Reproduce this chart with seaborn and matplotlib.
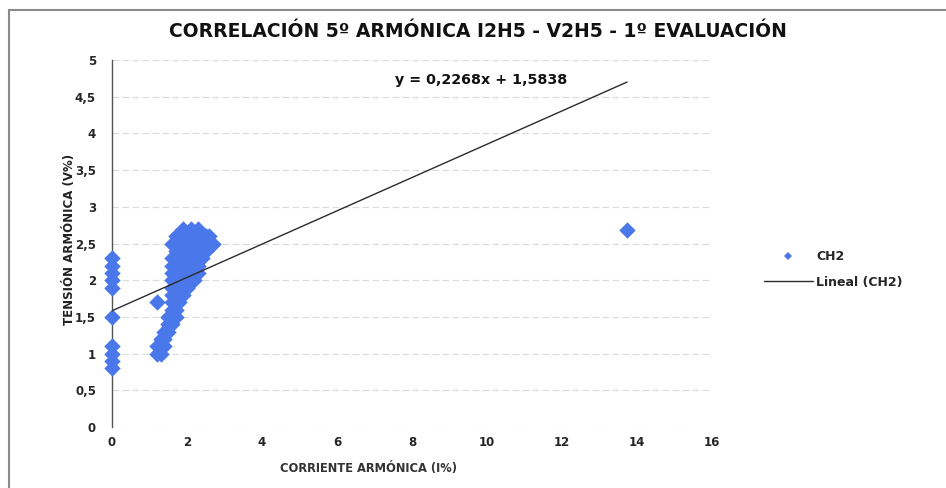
import matplotlib
matplotlib.use("Agg")
import matplotlib.pyplot as plt
from matplotlib.lines import Line2D
from matplotlib.ticker import FuncFormatter
import numpy as np
import pandas as pd
import seaborn as sns

# 5th harmonic: current distortion (I%) vs voltage distortion (V%), channel CH2
corriente = [
    0.0, 0.0, 0.0, 0.0, 0.0, 0.0, 0.0, 0.0, 0.0, 0.0,
    1.2, 1.3,
    1.2, 1.3, 1.4,
    1.3, 1.4,
    1.4, 1.5,
    1.5, 1.6,
    1.5, 1.6, 1.7,
    1.6, 1.7,
    1.2, 1.6, 1.7, 1.8,
    1.6, 1.7, 1.8, 1.9,
    1.6, 1.7, 1.8, 1.9, 2.0,
    1.6, 1.7, 1.8, 1.9, 2.0, 2.1, 2.2,
    1.6, 1.8, 2.0, 2.1, 2.2, 2.3,
    1.6, 1.8, 2.0, 2.2, 2.3,
    1.6, 1.8, 2.0, 2.2, 2.4,
    1.7, 1.9, 2.1, 2.3, 2.5,
    1.6, 1.8, 2.0, 2.2, 2.4, 2.6, 2.7,
    1.7, 1.9, 2.1, 2.3, 2.5, 2.6,
    1.9, 2.1, 2.3,
    13.74,
]
tension = [
    0.8, 0.9, 1.0, 1.1, 1.5, 1.9, 2.0, 2.1, 2.2, 2.3,
    1.0, 1.0,
    1.1, 1.1, 1.1,
    1.2, 1.2,
    1.3, 1.3,
    1.4, 1.4,
    1.5, 1.5, 1.5,
    1.6, 1.6,
    1.7, 1.7, 1.7, 1.7,
    1.8, 1.8, 1.8, 1.8,
    1.9, 1.9, 1.9, 1.9, 1.9,
    2.0, 2.0, 2.0, 2.0, 2.0, 2.0, 2.0,
    2.1, 2.1, 2.1, 2.1, 2.1, 2.1,
    2.2, 2.2, 2.2, 2.2, 2.2,
    2.3, 2.3, 2.3, 2.3, 2.3,
    2.4, 2.4, 2.4, 2.4, 2.4,
    2.5, 2.5, 2.5, 2.5, 2.5, 2.5, 2.5,
    2.6, 2.6, 2.6, 2.6, 2.6, 2.6,
    2.7, 2.7, 2.7,
    2.68,
]

# Linear trend (CH2)
pendiente = 0.2268
ordenada = 1.5838

x_ticks = [0, 2, 4, 6, 8, 10, 12, 14, 16]
y_ticks = [0, 0.5, 1, 1.5, 2, 2.5, 3, 3.5, 4, 4.5, 5]

titulo = "CORRELACIÓN 5º ARMÓNICA I2H5 - V2H5 - 1º EVALUACIÓN"
etiqueta_x = "CORRIENTE ARMÓNICA (I%)"
etiqueta_y = "TENSIÓN ARMÓNICA (V%)"
serie = "CH2"
serie_tendencia = "Lineal (CH2)"

AZUL = "#4a78ea"
LINEA = "#2b2b2b"

sns.set_theme(style="white")
plt.rcParams["font.family"] = ["DejaVu Sans"]

df = pd.DataFrame({"I": corriente, "V": tension})

fig = plt.figure(figsize=(9.46, 4.88), dpi=100)
ax = fig.add_axes([0.1184, 0.125, 0.634, 0.752])

# light horizontal grid
for yv in y_ticks:
    ax.axhline(yv, color="#dadada", lw=0.8, ls=(0, (6, 3)), zorder=0)

sns.scatterplot(data=df, x="I", y="V", marker="D", s=70, color=AZUL,
                linewidth=0, ax=ax, clip_on=False, zorder=3, legend=False)

xt = np.array([min(corriente), max(corriente)])
trend = pd.DataFrame({"I": xt, "V": pendiente * xt + ordenada})
sns.lineplot(data=trend, x="I", y="V", color=LINEA, lw=1.0, ax=ax, zorder=4)

ax.set_xlim(0, 16)
ax.set_ylim(0, 5)
ax.set_xticks(x_ticks)
ax.set_yticks(y_ticks)
fmt = FuncFormatter(lambda v, p: f"{v:g}".replace(".", ","))
ax.xaxis.set_major_formatter(fmt)
ax.yaxis.set_major_formatter(fmt)
ax.tick_params(axis="both", length=0, labelsize=8.5)
ax.tick_params(axis="y", pad=11.5)
ax.tick_params(axis="x", pad=6.5)
for lab in ax.get_xticklabels() + ax.get_yticklabels():
    lab.set_fontweight("bold")

for side in ("top", "right", "bottom"):
    ax.spines[side].set_visible(False)
ax.spines["left"].set_color("#555555")
ax.spines["left"].set_linewidth(1.0)
ax.set_facecolor("white")

ax.set_xlabel(etiqueta_x, fontsize=8.3, fontweight="bold", color="#333333")
ax.xaxis.set_label_coords(0.428, -0.095)
ax.set_ylabel(etiqueta_y, fontsize=8.5, fontweight="bold", color="#222222")
ax.yaxis.set_label_coords(-0.06, 0.51)

ecuacion = f"y = {pendiente:.4f}x + {ordenada:.4f}".replace(".", ",")
ax.text(9.84, 4.73, ecuacion, ha="center", va="center",
        fontsize=10.3, fontweight="bold", color="#111111")

fig.text(0.505, 0.936, titulo, ha="center", va="center",
         fontsize=13.5, fontweight="bold", color="#111111")

handles = [
    Line2D([], [], marker="D", ms=4.5, ls="none", color=AZUL, markeredgewidth=0),
    Line2D([], [], color=LINEA, lw=1.0),
]
fig.legend(handles, [serie, serie_tendencia], loc="upper left",
           bbox_to_anchor=(0.801, 0.500), frameon=False,
           prop={"size": 9, "weight": "bold"}, handlelength=3.9,
           handletextpad=0.3, labelspacing=1.0, borderpad=0)

# outer chart border
fig.add_artist(Line2D([9 / 946, 1.0], [1 - 10 / 488, 1 - 10 / 488],
                      transform=fig.transFigure, color="#8a8a8a", lw=1.5))
fig.add_artist(Line2D([9 / 946, 9 / 946], [0.0, 1 - 10 / 488],
                      transform=fig.transFigure, color="#8a8a8a", lw=1.5))

fig.savefig("out.png", dpi=100, facecolor="white")
